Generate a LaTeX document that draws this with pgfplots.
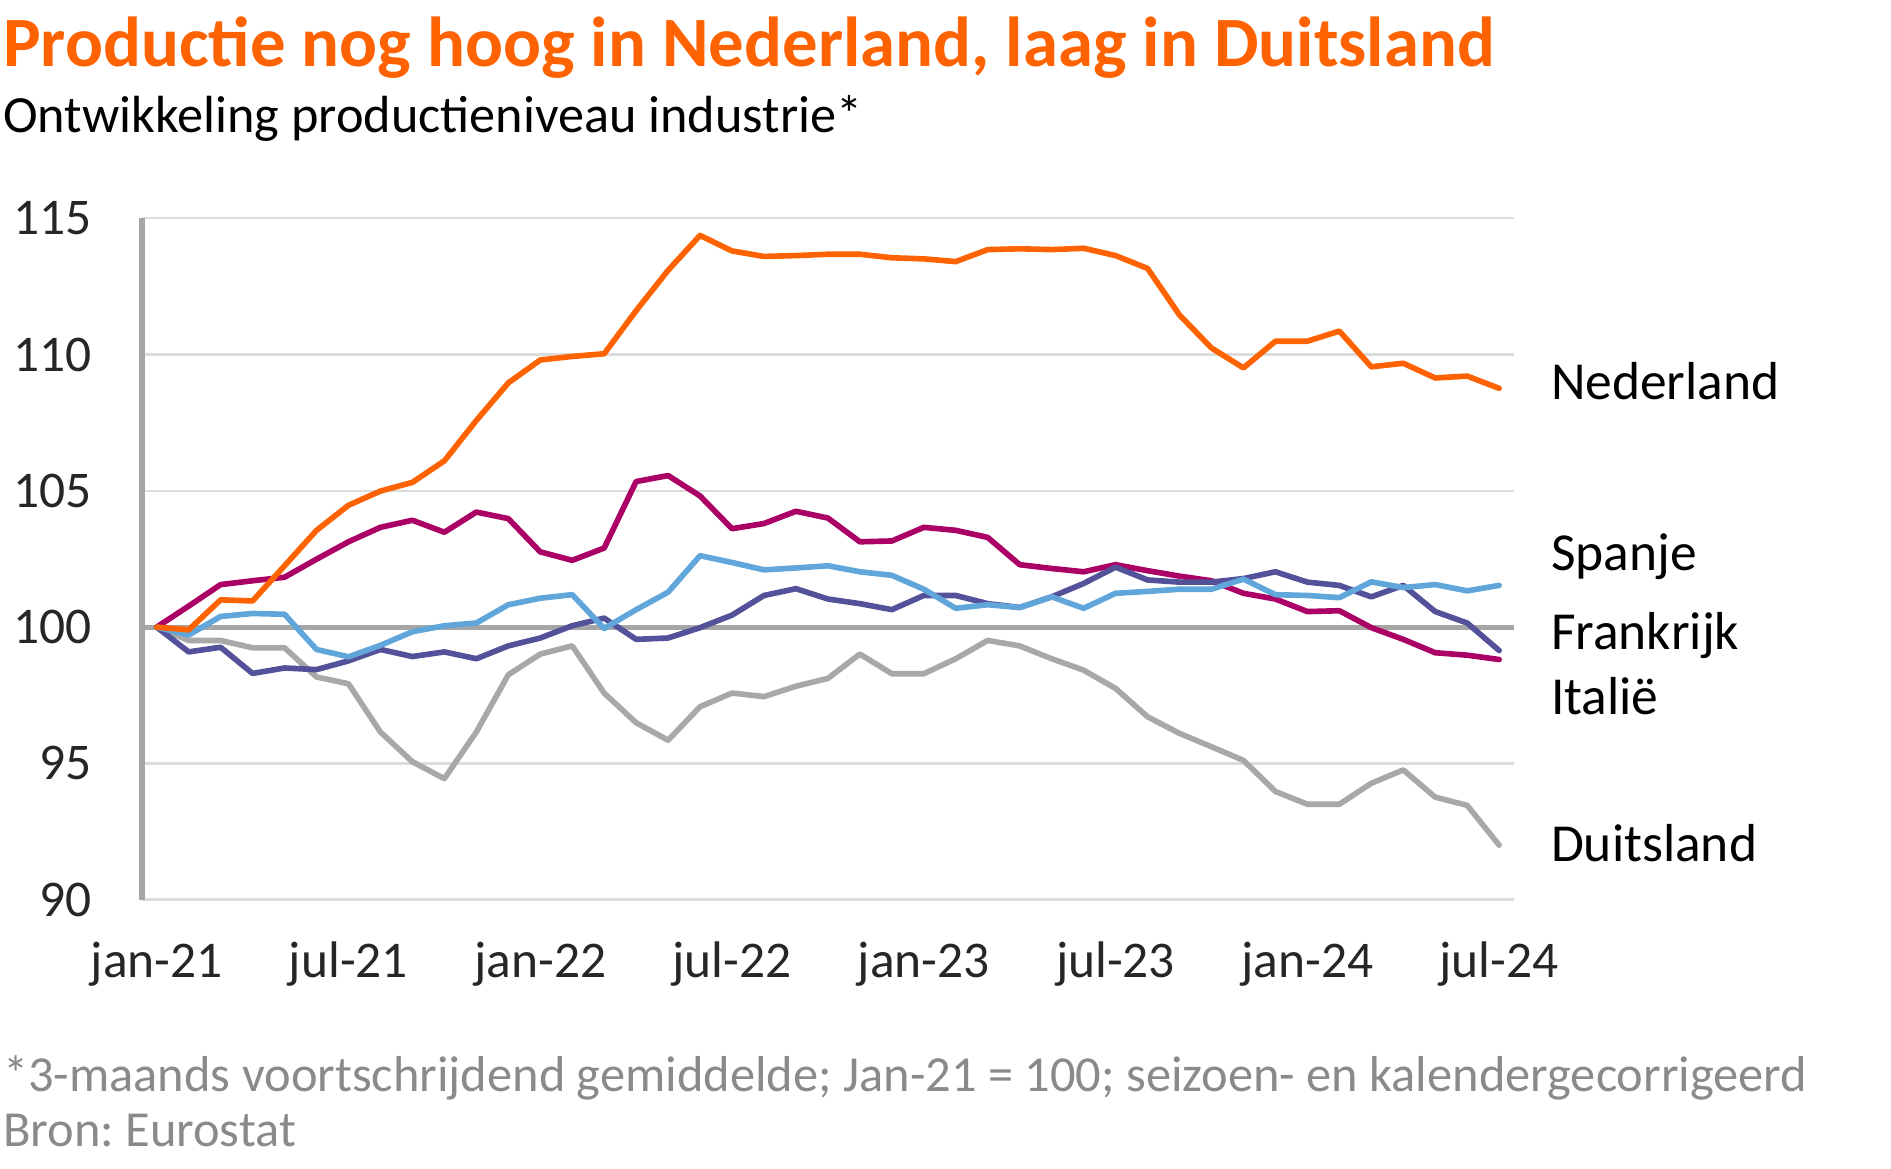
\documentclass[border=0pt]{standalone}
\usepackage{fontspec}
\setmainfont{Carlito}
\usepackage{pgfplots}
\pgfplotsset{compat=1.18}
\usepackage{pgfplotstable}
\definecolor{ingorange}{HTML}{FF6200}
\definecolor{ingmagenta}{HTML}{AB0066}
\definecolor{ingblue}{HTML}{60A6DA}
\definecolor{ingpurple}{HTML}{525199}
\definecolor{inggray}{HTML}{A8A8A8}
\definecolor{axisgray}{HTML}{A6A6A6}
\definecolor{gridgray}{HTML}{DCDCDC}
\definecolor{footgray}{HTML}{8A8A8A}
\frenchspacing

\pgfplotstableread{
i nl it es fr de
0 100 100 100 100 100
1 99.9 100.77 99.71 99.09 99.51
2 101.0 101.56 100.39 99.26 99.51
3 100.96 101.7 100.5 98.3 99.24
4 102.25 101.83 100.47 98.5 99.24
5 103.55 102.49 99.18 98.44 98.17
6 104.47 103.13 98.91 98.76 97.92
7 104.99 103.66 99.33 99.18 96.15
8 105.31 103.92 99.83 98.92 95.06
9 106.1 103.48 100.05 99.09 94.44
10 107.58 104.22 100.15 98.84 96.15
11 108.96 103.98 100.82 99.31 98.25
12 109.8 102.76 101.06 99.6 99.01
13 109.93 102.45 101.19 100.05 99.31
14 110.03 102.9 99.95 100.33 97.58
15 111.61 105.34 100.64 99.55 96.49
16 113.09 105.56 101.28 99.6 95.85
17 114.37 104.81 102.62 99.98 97.08
18 113.8 103.61 102.37 100.44 97.58
19 113.6 103.8 102.1 101.16 97.45
20 113.63 104.25 102.17 101.41 97.83
21 113.68 104.0 102.25 101.03 98.12
22 113.68 103.13 102.03 100.86 99.01
23 113.55 103.16 101.9 100.64 98.29
24 113.51 103.66 101.39 101.16 98.29
25 113.41 103.55 100.69 101.16 98.84
26 113.85 103.29 100.82 100.86 99.51
27 113.88 102.29 100.72 100.72 99.31
28 113.85 102.15 101.11 101.11 98.84
29 113.9 102.03 100.69 101.6 98.42
30 113.63 102.29 101.24 102.2 97.75
31 113.16 102.07 101.31 101.73 96.71
32 111.45 101.87 101.39 101.65 96.1
33 110.24 101.7 101.39 101.65 95.61
34 109.51 101.24 101.76 101.78 95.11
35 110.49 101.03 101.19 102.03 93.97
36 110.49 100.57 101.16 101.65 93.5
37 110.86 100.6 101.08 101.53 93.5
38 109.55 99.98 101.66 101.11 94.27
39 109.68 99.55 101.45 101.53 94.76
40 109.14 99.06 101.56 100.57 93.76
41 109.21 98.97 101.33 100.15 93.46
42 108.76 98.81 101.53 99.14 92.0
}\datatable

\begin{document}
\begin{tikzpicture}
\path[use as bounding box] (0pt,0pt) rectangle (470.4pt,290.7pt);
\node[anchor=base west, inner sep=0, text=ingorange, font=\fontsize{17.6}{20}\selectfont\bfseries] at (0.6pt,274.2pt) {Productie nog hoog in Nederland, laag in Duitsland};
\node[anchor=base west, inner sep=0, font=\fontsize{13}{15}\selectfont] at (0.6pt,257.7pt) {Ontwikkeling productieniveau industrie*};
\begin{axis}[
  at={(35.4pt,66.9pt)}, anchor=south west, scale only axis,
  width=341.1pt, height=169.5pt,
  xmin=-0.45, xmax=42.45, ymin=90, ymax=115,
  axis y line*=left, axis x line*=bottom,
  x axis line style={draw=none},
  y axis line style={draw=axisgray, line width=1.5pt},
  major tick length=0pt,
  ytick={90,95,...,115},
  xtick={0,6,...,42},
  xticklabels={jan-21,jul-21,jan-22,jul-22,jan-23,jul-23,jan-24,jul-24},
  ymajorgrids, grid style={draw=gridgray, line width=0.6pt},
  extra y ticks={100}, extra y tick labels={},
  extra y tick style={grid style={draw=axisgray, line width=1.2pt}},
  ticklabel style={font=\fontsize{12.8}{14}\selectfont, text=black!85},
  yticklabel style={anchor=east, xshift=-9pt},
  xticklabel style={anchor=north, yshift=-7pt},
  /pgf/number format/assume math mode=true,
  clip=false,
  every axis plot/.append style={line width=1.4pt, line join=round, line cap=round, mark=none},
]
\addplot[color=inggray] table[x=i, y=de] {\datatable};
\addplot[color=ingmagenta] table[x=i, y=it] {\datatable};
\addplot[color=ingpurple] table[x=i, y=fr] {\datatable};
\addplot[color=ingblue] table[x=i, y=es] {\datatable};
\addplot[color=ingorange] table[x=i, y=nl] {\datatable};
\node[anchor=west, inner sep=0, font=\fontsize{13.3}{15}\selectfont] at (axis cs:43.6,109.03) {Nederland};
\node[anchor=west, inner sep=0, font=\fontsize{13.3}{15}\selectfont] at (axis cs:43.6,102.6) {Spanje};
\node[anchor=west, inner sep=0, font=\fontsize{13.3}{15}\selectfont] at (axis cs:43.6,99.69) {Frankrijk};
\node[anchor=west, inner sep=0, font=\fontsize{13.3}{15}\selectfont] at (axis cs:43.6,97.48) {Italië};
\node[anchor=west, inner sep=0, font=\fontsize{13.3}{15}\selectfont] at (axis cs:43.6,92.08) {Duitsland};
\end{axis}
\node[anchor=base west, inner sep=0, text=footgray, font=\fontsize{12.55}{14}\selectfont] at (0.6pt,19.2pt) {*3-maands voortschrijdend gemiddelde; Jan-21 = 100; seizoen- en kalendergecorrigeerd};
\node[anchor=base west, inner sep=0, text=footgray, font=\fontsize{12.55}{14}\selectfont] at (0.6pt,5.4pt) {Bron: Eurostat};
\end{tikzpicture}
\end{document}
